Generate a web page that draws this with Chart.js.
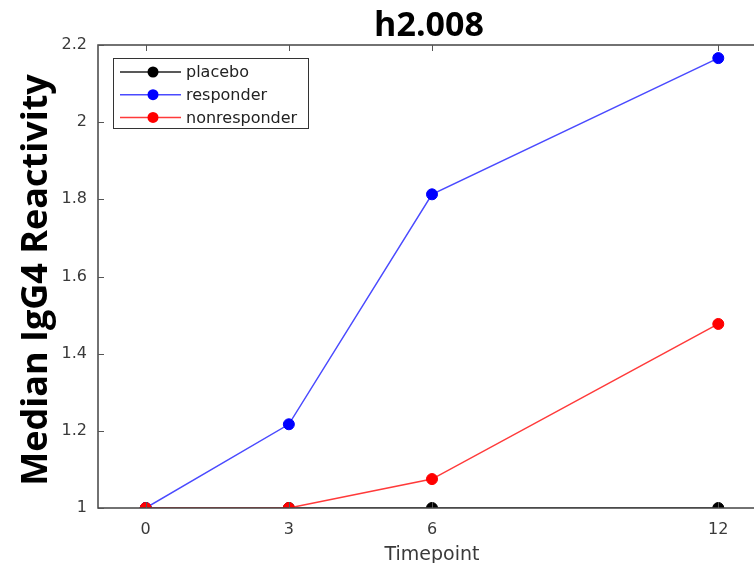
<!DOCTYPE html>
<html>
<head>
<meta charset="utf-8">
<title>h2.008</title>
<script src="https://cdn.jsdelivr.net/npm/chart.js@4/dist/chart.umd.min.js"></script>
<style>
    html, body { margin: 0; padding: 0; background: #fff; overflow: hidden; }
    #wrap { width: 754px; height: 563px; overflow: hidden; }
</style>
</head>
<body>
<div id="wrap"><canvas id="chart" width="780" height="563"></canvas></div>
<script>
// Timepoints and median IgG4 reactivity per group
const timepoints = [0, 3, 6, 12];
const placebo = [1, 1, 1, 1];
const responder = [1, 1.217, 1.813, 2.166];
const nonresponder = [1, 1, 1.075, 1.477];

const yTicks = [1, 1.2, 1.4, 1.6, 1.8, 2, 2.2];
const yTickLabels = ['1', '1.2', '1.4', '1.6', '1.8', '2', '2.2'];

const titleText = 'h2.008';
const xTitle = 'Timepoint';
const yTitle = 'Median IgG4 Reactivity';

const toPoints = vals => vals.map((v, i) => ({ x: timepoints[i], y: v }));

function series(label, vals, color, lineColor, order) {
    return {
        label: label,
        data: toPoints(vals),
        borderColor: lineColor,
        backgroundColor: color,
        pointBackgroundColor: color,
        pointBorderColor: color,
        pointRadius: 5.5,
        pointBorderWidth: 1,
        borderWidth: 1.5,
        tension: 0,
        order: order
    };
}

// frame, inward ticks, titles and the boxed legend (MATLAB look)
const matlabFrame = {
    id: 'matlabFrame',
    afterDraw(chart) {
        const ctx = chart.ctx;
        const a = chart.chartArea;
        const xs = chart.scales.x;
        const ys = chart.scales.y;
        ctx.save();

        ctx.strokeStyle = '#444';
        ctx.lineWidth = 1.5;
        ctx.beginPath();
        ctx.moveTo(a.right, a.top);
        ctx.lineTo(a.left, a.top);
        ctx.lineTo(a.left, a.bottom);
        ctx.lineTo(a.right, a.bottom);
        ctx.stroke();

        ctx.lineWidth = 1;
        ctx.strokeStyle = '#555';
        ctx.beginPath();
        timepoints.forEach(t => {
            const px = Math.round(xs.getPixelForValue(t)) + 0.5;
            ctx.moveTo(px, a.bottom); ctx.lineTo(px, a.bottom - 6);
            ctx.moveTo(px, a.top); ctx.lineTo(px, a.top + 6);
        });
        yTicks.forEach(v => {
            const py = Math.round(ys.getPixelForValue(v)) + 0.5;
            ctx.moveTo(a.left, py); ctx.lineTo(a.left + 6, py);
        });
        ctx.stroke();

        // title
        ctx.fillStyle = '#000';
        ctx.font = 'bold 34px "Open Sans", sans-serif';
        ctx.textAlign = 'center';
        ctx.textBaseline = 'alphabetic';
        ctx.fillText(titleText, 429, 36);

        // x axis title
        ctx.fillStyle = '#3a3a3a';
        ctx.font = '19px "DejaVu Sans", sans-serif';
        ctx.fillText(xTitle, 432, 560);

        // y axis title
        ctx.save();
        ctx.translate(47, 280);
        ctx.rotate(-Math.PI / 2);
        ctx.fillStyle = '#000';
        ctx.font = 'bold 36px "Open Sans", sans-serif';
        ctx.fillText(yTitle, 0, 0);
        ctx.restore();

        // legend
        const box = { x: 113.5, y: 58.5, w: 195, h: 70 };
        ctx.fillStyle = '#fff';
        ctx.fillRect(box.x, box.y, box.w, box.h);
        ctx.strokeStyle = '#333';
        ctx.lineWidth = 1;
        ctx.strokeRect(box.x, box.y, box.w, box.h);
        ctx.font = '16px "DejaVu Sans", sans-serif';
        ctx.textAlign = 'left';
        ctx.textBaseline = 'middle';
        chart.data.datasets.forEach((ds, i) => {
            const cy = 72 + i * 22.7;
            ctx.strokeStyle = ds.borderColor;
            ctx.lineWidth = 1.5;
            ctx.beginPath();
            ctx.moveTo(120, cy); ctx.lineTo(181, cy);
            ctx.stroke();
            ctx.fillStyle = ds.pointBackgroundColor;
            ctx.beginPath();
            ctx.arc(153, cy, 5.5, 0, Math.PI * 2);
            ctx.fill();
            ctx.fillStyle = '#222';
            ctx.fillText(ds.label, 186, cy + 1);
        });

        ctx.restore();
    }
};

new Chart(document.getElementById('chart'), {
    type: 'line',
    data: {
        datasets: [
            series('placebo', placebo, '#000000', '#222222', 2),
            series('responder', responder, '#0000ff', '#4a4aff', 1),
            series('nonresponder', nonresponder, '#ff0000', '#ff3a3a', 0)
        ]
    },
    options: {
        responsive: false,
        devicePixelRatio: 1,
        animation: false,
        layout: { padding: { left: 0, top: 45, right: 14, bottom: 0 } },
        scales: {
            x: {
                type: 'linear',
                min: -1,
                max: 13,
                afterBuildTicks: s => { s.ticks = timepoints.map(v => ({ value: v })); },
                afterFit: s => { s.height = 55; },
                grid: { display: false, drawTicks: false },
                border: { display: false },
                ticks: {
                    padding: 12,
                    color: '#3a3a3a',
                    font: { family: 'DejaVu Sans', size: 16 },
                    callback: v => String(v)
                }
            },
            y: {
                min: 1,
                max: 2.2,
                afterBuildTicks: s => { s.ticks = yTicks.map(v => ({ value: v })); },
                afterFit: s => { s.width = 98; },
                grid: { display: false, drawTicks: false },
                border: { display: false },
                ticks: {
                    padding: 11,
                    color: '#3a3a3a',
                    font: { family: 'DejaVu Sans', size: 16 },
                    callback: (v, i) => yTickLabels[i]
                }
            }
        },
        plugins: {
            legend: { display: false },
            tooltip: { enabled: false },
            title: { display: false }
        }
    },
    plugins: [matlabFrame]
});
</script>
</body>
</html>
